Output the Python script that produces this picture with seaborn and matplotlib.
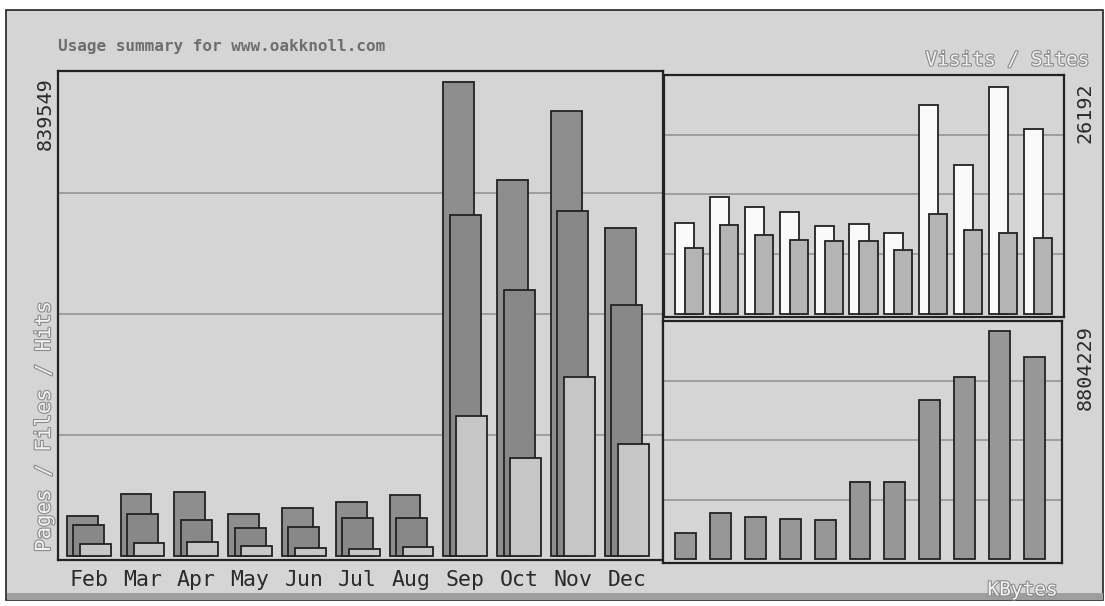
import numpy as np
import matplotlib.pyplot as plt
import matplotlib.patheffects as pe
from matplotlib.patches import Rectangle
import seaborn as sns

months = ["Feb", "Mar", "Apr", "May", "Jun", "Jul", "Aug", "Sep", "Oct", "Nov", "Dec"]

# left panel: hits / files / pages (max 839549)
hits = [69000, 108000, 111000, 73000, 83000, 94000, 106000, 822000, 652000, 772000, 569000]
files = [54000, 73000, 62000, 49000, 50000, 66000, 66000, 591000, 461000, 598000, 435000]
pages = [21000, 23000, 24000, 17000, 14000, 12000, 16000, 243000, 170000, 310000, 194000]
hits_max = 839549

# top right: visits / sites (max 26192)
visits = [10000, 12850, 11700, 11150, 9650, 9850, 8850, 22900, 16300, 24900, 20300]
sites = [7200, 9750, 8650, 8100, 8000, 8000, 7000, 11000, 9200, 8900, 8350]
visits_max = 26192

# bottom right: kbytes (max 8804229)
kbytes = [957000, 1720000, 1550000, 1470000, 1440000, 2860000, 2860000, 5890000, 6740000, 8420000, 7470000]
kbytes_max = 8804229

W, H = 1105, 606
BG = "#d5d5d5"
EDGE = "#222222"
MONO = "DejaVu Sans Mono"

sns.set_style("white")
plt.rcParams["font.family"] = [MONO]

fig = plt.figure(figsize=(W / 100, H / 100), dpi=100, facecolor="white")

# page background + bevel
fig.patches.append(Rectangle((6 / W, 1 - 600 / H), 1097 / W, 590 / H, transform=fig.transFigure,
                             facecolor=BG, edgecolor=EDGE, lw=1.2, zorder=-5))
fig.patches.append(Rectangle((7 / W, 1 - 600 / H), 1096 / W, 7 / H, transform=fig.transFigure,
                             facecolor="#9e9e9e", edgecolor="none", zorder=-4))


def panel(x0, y0, x1, y1, zero_px, top_px, top_val):
    ax = fig.add_axes([x0 / W, 1 - y1 / H, (x1 - x0) / W, (y1 - y0) / H])
    ax.set_facecolor(BG)
    per_px = top_val / (zero_px - top_px)
    ax.set_ylim(-(y1 - zero_px) * per_px, top_val + (top_px - y0) * per_px)
    ax.set_yticks([top_val * k / 4 for k in (1, 2, 3)])
    ax.yaxis.grid(True, color="#9a9a9a", lw=1.3)
    ax.set_axisbelow(True)
    for s in ax.spines.values():
        s.set_color(EDGE)
        s.set_linewidth(1.6)
    return ax


def bars(ax, pos, vals, width, color):
    sns.barplot(x=pos, y=vals, native_scale=True, width=width, color=color, saturation=1,
                edgecolor=EDGE, linewidth=1.3, ax=ax)


idx = np.arange(len(months))

# left: pages/files/hits
ax1 = panel(58, 71, 663, 560, 556, 72, hits_max)
step = 6.5 / 53.8
bars(ax1, idx, hits, 0.576, "#8e8e8e")
bars(ax1, idx + step, files, 0.576, "#888888")
bars(ax1, idx + 2 * step, pages, 0.576, "#c6c6c6")
ax1.set_xlim((58 - 82.2) / 53.8, (663 - 82.2) / 53.8)

# top right: visits/sites
ax2 = panel(664, 75, 1064, 317, 314, 75, visits_max)
bars(ax2, idx, visits, 0.545, "#fafafa")
bars(ax2, idx + 9.5 / 34.9, sites, 0.516, "#b4b4b4")
ax2.set_xlim((664 - 684.5) / 34.9, (1064 - 684.5) / 34.9)

# bottom right: kbytes
ax3 = panel(663, 321, 1062, 563, 559, 321, kbytes_max)
bars(ax3, idx, kbytes, 0.6, "#979797")
ax3.set_xlim((663 - 685.5) / 34.9, (1062 - 685.5) / 34.9)

for ax in (ax1, ax2, ax3):
    ax.set_xlabel("")
    ax.set_ylabel("")
    ax.set_xticks([])
    ax.tick_params(left=False, labelleft=False, bottom=False, labelbottom=False)

# month labels under the left panel
for i, m in enumerate(months):
    x_px = 88.7 + i * 53.8
    fig.text(x_px / W, 1 - 580 / H, m, ha="center", va="center", fontsize=15.5, color="#2a2a2a")

light = [pe.withStroke(linewidth=1.6, foreground="#8a8a8a")]

fig.text(58 / W, 1 - 47 / H, "Usage summary for www.oakknoll.com", ha="left", va="center",
         fontsize=11.5, fontweight="bold", color="#6e6e6e")
fig.text(1090 / W, 1 - 60 / H, "Visits / Sites", ha="right", va="center", fontsize=14,
         color="#f2f2f2", path_effects=light)
fig.text(1058 / W, 1 - 590 / H, "KBytes", ha="right", va="center", fontsize=14,
         color="#f2f2f2", path_effects=light)
fig.text(44 / W, 1 - 552 / H, "Pages / Files / Hits", ha="center", va="bottom", rotation=90,
         fontsize=15, color="#f2f2f2", path_effects=light)

fig.text(45 / W, 1 - 77 / H, f"{hits_max}", ha="center", va="top", rotation=90,
         fontsize=14.5, color="#2a2a2a")
fig.text(1085 / W, 1 - 82 / H, f"{visits_max}", ha="center", va="top", rotation=90,
         fontsize=14.5, color="#2a2a2a")
fig.text(1085 / W, 1 - 325 / H, f"{kbytes_max}", ha="center", va="top", rotation=90,
         fontsize=14.5, color="#2a2a2a")

fig.savefig("out.png", dpi=100, facecolor=fig.get_facecolor())
